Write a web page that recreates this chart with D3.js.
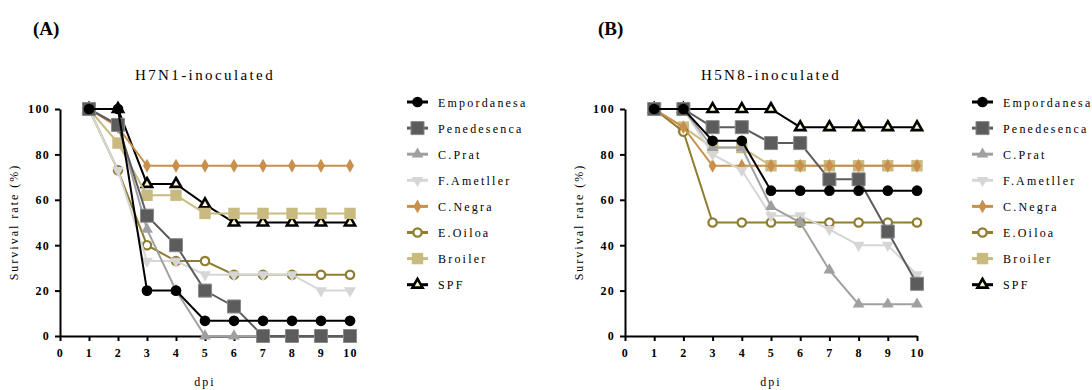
<!DOCTYPE html>
<html>
<head>
<meta charset="utf-8">
<script src="https://cdn.jsdelivr.net/npm/d3@7"></script>
<style>
  body { margin: 0; background: #fff; }
  text { font-family: "Liberation Serif", "DejaVu Serif", serif; }
</style>
</head>
<body>
<div id="chart"></div>
<script>
// data
var days = [1, 2, 3, 4, 5, 6, 7, 8, 9, 10];
var breeds = ["Empordanesa", "Penedesenca", "C.Prat", "F.Ametller", "C.Negra", "E.Oiloa", "Broiler", "SPF"];
var xTicks = [0, 1, 2, 3, 4, 5, 6, 7, 8, 9, 10];
var yTicks = [0, 20, 40, 60, 80, 100];

// H7N1 survival (%)
var h7n1Empordanesa = [100, 100, 20, 20, 6.7, 6.7, 6.7, 6.7, 6.7, 6.7];
var h7n1Penedesenca = [100, 93, 53, 40, 20, 13, 0, 0, 0, 0];
var h7n1CPrat = [100, 93, 47, 20, 0, 0, 0, 0, 0, 0];
var h7n1FAmetller = [100, 73, 33, 33, 27, 27, 27, 27, 20, 20];
var h7n1CNegra = [100, 92, 75, 75, 75, 75, 75, 75, 75, 75];
var h7n1EOiloa = [100, 73, 40, 33, 33, 27, 27, 27, 27, 27];
var h7n1Broiler = [100, 85, 62, 62, 54, 54, 54, 54, 54, 54];
var h7n1SPF = [100, 100, 67, 67, 58, 50, 50, 50, 50, 50];

// H5N8 survival (%)
var h5n8Empordanesa = [100, 100, 86, 86, 64, 64, 64, 64, 64, 64];
var h5n8Penedesenca = [100, 100, 92, 92, 85, 85, 69, 69, 46, 23];
var h5n8CPrat = [100, 100, 83, 83, 57, 50, 29, 14, 14, 14];
var h5n8FAmetller = [100, 100, 80, 73, 53, 53, 47, 40, 40, 27];
var h5n8CNegra = [100, 92, 75, 75, 75, 75, 75, 75, 75, 75];
var h5n8EOiloa = [100, 90, 50, 50, 50, 50, 50, 50, 50, 50];
var h5n8Broiler = [100, 92, 83, 83, 75, 75, 75, 75, 75, 75];
var h5n8SPF = [100, 100, 100, 100, 100, 92, 92, 92, 92, 92];

var h7n1 = [h7n1Empordanesa, h7n1Penedesenca, h7n1CPrat, h7n1FAmetller, h7n1CNegra, h7n1EOiloa, h7n1Broiler, h7n1SPF];
var h5n8 = [h5n8Empordanesa, h5n8Penedesenca, h5n8CPrat, h5n8FAmetller, h5n8CNegra, h5n8EOiloa, h5n8Broiler, h5n8SPF];

// styles per breed
var styles = [
  { color: "#000000", symbol: d3.symbolCircle, size: 90, fill: "#000000", stroke: "none" },
  { color: "#5c5c5c", symbol: d3.symbolSquare, size: 170, fill: "#5c5c5c", stroke: "#8a8a8a" },
  { color: "#a0a0a0", symbol: d3.symbolTriangle, size: 60, fill: "#a0a0a0", stroke: "none" },
  { color: "#d6d6d6", symbol: d3.symbolTriangle, size: 60, fill: "#d6d6d6", stroke: "none", rotate: 180 },
  { color: "#c8904c", symbol: d3.symbolDiamond, size: 55, fill: "#c8904c", stroke: "none" },
  { color: "#8f7d30", symbol: d3.symbolCircle, size: 55, fill: "#ffffff", stroke: "#8f7d30", sw: 2.2 },
  { color: "#c9bb80", symbol: d3.symbolSquare, size: 130, fill: "#c9bb80", stroke: "none" },
  { color: "#000000", symbol: d3.symbolTriangle, size: 45, fill: "#fff8d0", stroke: "#000000", sw: 2.6 }
];

var serif = "Liberation Serif, DejaVu Serif, serif";

var svg = d3.select("#chart").append("svg")
  .attr("width", 1092)
  .attr("height", 390);

function drawPanel(letter, title, data, x0, x1, legX) {
  var x = d3.scaleLinear().domain([0, 10]).range([x0, x1]);
  var y = d3.scaleLinear().domain([0, 100]).range([336, 109]);
  var g = svg.append("g").attr("font-family", serif);

  g.append("text")
    .attr("x", x0 - 27).attr("y", 35)
    .attr("font-size", "19px").attr("font-weight", "bold")
    .text("(" + letter + ")");

  g.append("text")
    .attr("x", (x0 + x1) / 2).attr("y", 80)
    .attr("text-anchor", "middle")
    .attr("font-size", "15px").attr("letter-spacing", "2.4px")
    .text(title);

  var xAxis = d3.axisBottom(x).tickValues(xTicks).tickSizeInner(5).tickSizeOuter(0).tickPadding(7);
  var yAxis = d3.axisLeft(y).tickValues(yTicks).tickSizeInner(5).tickSizeOuter(0).tickPadding(5);

  var gx = g.append("g").attr("transform", "translate(0,336)").call(xAxis);
  var gy = g.append("g").attr("transform", "translate(" + x0 + ",0)").call(yAxis);
  [gx, gy].forEach(function(a) {
    a.attr("font-family", serif);
    a.select(".domain").attr("stroke-width", 2);
    a.selectAll(".tick line").attr("stroke-width", 2);
    a.selectAll(".tick text")
      .attr("font-size", "12px").attr("font-weight", "bold")
      .attr("letter-spacing", "1.3px").attr("fill", "#000");
  });

  g.append("text")
    .attr("x", (x0 + x1) / 2).attr("y", 386)
    .attr("text-anchor", "middle")
    .attr("font-size", "12px").attr("letter-spacing", "2px")
    .text("dpi");

  g.append("text")
    .attr("transform", "translate(" + (x0 - 42) + ",222) rotate(-90)")
    .attr("text-anchor", "middle")
    .attr("font-size", "12px").attr("letter-spacing", "2px")
    .text("Survival rate (%)");

  var line = d3.line().x(function(d, i) { return x(days[i]); }).y(function(d) { return y(d); });

  // draw last series first so that earlier series sit on top
  for (var k = breeds.length - 1; k >= 0; k--) {
    var s = styles[k];
    var sg = g.append("g");
    sg.append("path").datum(data[k])
      .attr("d", line)
      .attr("fill", "none")
      .attr("stroke", s.color)
      .attr("stroke-width", 2);
    sg.selectAll("path.pt").data(data[k]).enter().append("path")
      .attr("class", "pt")
      .attr("d", d3.symbol().type(s.symbol).size(s.size))
      .attr("transform", function(d, i) {
        return "translate(" + x(days[i]) + "," + y(d) + ")" + (s.rotate ? " rotate(" + s.rotate + ")" : "");
      })
      .attr("fill", s.fill)
      .attr("stroke", s.stroke)
      .attr("stroke-width", s.sw || 1);
  }

  // legend
  var lg = g.append("g");
  breeds.forEach(function(name, k) {
    var s = styles[k];
    var ly = 102 + k * 26.1;
    lg.append("line")
      .attr("x1", legX).attr("x2", legX + 21)
      .attr("y1", ly).attr("y2", ly)
      .attr("stroke", s.color).attr("stroke-width", 3);
    lg.append("path")
      .attr("d", d3.symbol().type(s.symbol).size(s.size))
      .attr("transform", "translate(" + (legX + 10.5) + "," + ly + ")" + (s.rotate ? " rotate(" + s.rotate + ")" : ""))
      .attr("fill", s.fill)
      .attr("stroke", s.stroke)
      .attr("stroke-width", s.sw || 1);
    lg.append("text")
      .attr("x", legX + 31).attr("y", ly + 4.5)
      .attr("font-size", "12px").attr("letter-spacing", "2.2px")
      .text(name);
  });
}

drawPanel("A", "H7N1-inoculated", h7n1, 60, 350, 407);
drawPanel("B", "H5N8-inoculated", h5n8, 625, 917, 972);
</script>
</body>
</html>
